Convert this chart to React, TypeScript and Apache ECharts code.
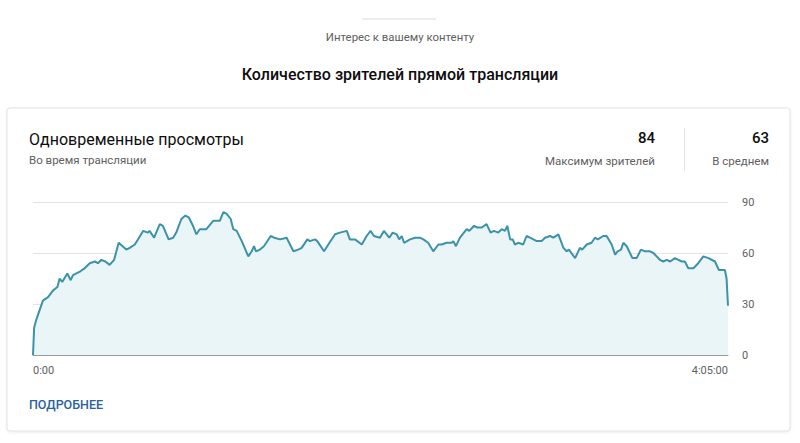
import React, { useEffect, useRef } from "react";
import * as echarts from "echarts";

// Minutes since the start of the stream
const minutes = [
  0, 0.4, 1.2, 3.5, 5.3, 7.1, 8.6, 9.4, 10.3, 12.1, 13.3, 14.1, 16.5, 17.3, 18.2, 20.0,
  21.8, 22.9, 24.1, 25.5, 27.0, 28.6, 30.2, 32.9, 34.1, 35.9, 37.0, 38.8, 40.5, 41.1,
  42.7, 44.7, 45.8, 47.8, 49.4, 50.5, 52.3, 53.7, 54.9, 56.4, 57.6, 58.8, 61.1, 63.6,
  65.9, 67.1, 68.3, 69.7, 70.6, 71.8, 73.6, 75.9, 77.1, 77.9, 78.6, 80.0, 81.4, 83.8,
  85.0, 87.1, 89.4, 91.8, 93.5, 94.7, 96.7, 97.6, 99.4, 100.2, 102.6, 104.5, 106.5,
  108.2, 110.6, 111.7, 113.5, 115.9, 117.6, 119.0, 120.2, 122.3, 123.7, 125.6, 126.8,
  128.2, 129.1, 130.0, 130.8, 132.9, 134.7, 136.4, 137.6, 139.3, 141.1, 142.9, 144.1,
  145.8, 147.6, 148.2, 149.1, 150.5, 152.9, 153.8, 155.5, 156.6, 158.2, 159.9, 161.3,
  162.5, 164.0, 165.2, 166.4, 167.2, 168.2, 169.1, 169.9, 171.1, 172.8, 174.0, 175.2,
  177.6, 179.3, 180.5, 182.3, 183.4, 185.2, 187.0, 188.1, 188.9, 191.1, 192.8, 193.6,
  195.2, 196.9, 198.1, 199.1, 201.0, 202.2, 204.0, 205.2, 206.1, 207.3, 208.1, 209.3,
  211.3, 212.8, 214.3, 215.7, 217.5, 218.7, 221.0, 222.2, 223.4, 224.6, 226.3, 227.5,
  228.7, 229.8, 231.0, 232.8, 234.5, 236.3, 238.1, 240.4, 241.8, 243.0, 243.9, 244.5, 245,
];

// Concurrent viewers at each moment
const viewers = [
  0, 16, 21, 32, 34, 38, 40, 45, 43, 48, 44, 47, 49, 50, 51, 54,
  55, 54, 56, 55, 53, 56, 66, 62, 63, 65, 68, 73, 72, 73,
  69, 77, 76, 68, 69, 72, 80, 82, 81, 76, 71, 74, 74, 79,
  79, 84, 83, 80, 74, 73, 67, 58, 61, 64, 61, 62, 64, 70,
  69, 68, 69, 61, 62, 63, 68, 67, 68, 67, 61, 66, 71,
  72, 73, 68, 68, 65, 70, 73, 70, 69, 73, 69, 72,
  71, 68, 70, 66, 68, 69, 69, 68, 66, 61, 65, 65,
  66, 66, 67, 64, 69, 74, 73, 76, 75, 75, 77, 72,
  73, 72, 74, 73, 76, 68, 68, 65, 66, 65, 70, 69,
  67, 67, 69, 70, 69, 71, 63, 61, 62, 57, 63, 62,
  65, 66, 69, 68, 70, 70, 65, 59, 61, 62, 66, 64,
  57, 57, 62, 61, 61, 60, 56, 55, 56, 55, 57, 56,
  55, 55, 51, 51, 54, 58, 57, 55, 50, 50, 50, 45, 29,
];

const yTicks = [0, 30, 60, 90];
const xTicks = [0, 245];

const pageSubtitle = "Интерес к вашему контенту";
const pageTitle = "Количество зрителей прямой трансляции";
const cardTitle = "Одновременные просмотры";
const cardSubtitle = "Во время трансляции";
const statLabels = ["Максимум зрителей", "В среднем"];
const statValues = [84, 63];
const linkText = "ПОДРОБНЕЕ";

const FONT = "Roboto, 'Noto Sans', Arial, sans-serif";

function formatTime(m: number): string {
  if (m === 0) return "0:00";
  const h = Math.floor(m / 60);
  const mm = Math.round(m % 60);
  return `${h}:${String(mm).padStart(2, "0")}:00`;
}

export default function App() {
  const ref = useRef<HTMLDivElement>(null);

  useEffect(() => {
    if (!ref.current) return;
    const chart = echarts.init(ref.current, undefined, { renderer: "svg" });
    const points = minutes.map((t, i) => [t, viewers[i]]);

    chart.setOption({
      animation: false,
      backgroundColor: "#ffffff",
      textStyle: { fontFamily: FONT },
      grid: { left: 33, right: 72, top: 202, bottom: 88 },
      xAxis: {
        type: "value",
        min: 0,
        max: 245,
        axisLine: { show: true, lineStyle: { color: "#9a9a9a", width: 1 } },
        axisTick: { show: false },
        splitLine: { show: false },
        axisLabel: {
          customValues: xTicks,
          formatter: (v: number) => formatTime(v),
          color: "#606060",
          fontSize: 11,
          fontFamily: FONT,
          margin: 10,
          alignMinLabel: "left",
          alignMaxLabel: "right",
        },
      },
      yAxis: {
        type: "value",
        position: "right",
        min: 0,
        max: 90,
        interval: 30,
        axisLine: { show: false },
        axisTick: { show: false },
        axisLabel: {
          customValues: yTicks,
          color: "#606060",
          fontSize: 11,
          fontFamily: FONT,
          margin: 14,
        },
        splitLine: { show: true, lineStyle: { color: "#e4e4e4", width: 1 } },
      },
      series: [
        {
          type: "line",
          data: points,
          showSymbol: false,
          symbol: "none",
          lineStyle: { color: "#3b92a9", width: 2 },
          areaStyle: { color: "#eaf5f8", opacity: 1 },
          z: 3,
        },
      ],
      graphic: [
        {
          type: "line",
          shape: { x1: 362, y1: 19, x2: 436, y2: 19 },
          style: { stroke: "#dcdcdc", lineWidth: 1 },
        },
        {
          type: "text",
          x: 400,
          y: 37,
          style: {
            text: pageSubtitle,
            font: `11.4px ${FONT}`,
            fill: "#606060",
            textAlign: "center",
            textVerticalAlign: "middle",
          },
        },
        {
          type: "text",
          x: 400,
          y: 74,
          style: {
            text: pageTitle,
            font: `500 16px ${FONT}`,
            fill: "#0d0d0d",
            textAlign: "center",
            textVerticalAlign: "middle",
          },
        },
        {
          type: "rect",
          z: -10,
          shape: { x: 7, y: 108, width: 783, height: 323, r: 3 },
          style: {
            fill: "#ffffff",
            stroke: "#e3e3e3",
            lineWidth: 1,
            shadowBlur: 3,
            shadowOffsetY: 1,
            shadowColor: "rgba(0,0,0,0.08)",
          },
        },
        {
          type: "text",
          x: 29,
          y: 139,
          style: {
            text: cardTitle,
            font: `16px ${FONT}`,
            fill: "#0d0d0d",
            textAlign: "left",
            textVerticalAlign: "middle",
          },
        },
        {
          type: "text",
          x: 29,
          y: 160,
          style: {
            text: cardSubtitle,
            font: `11.5px ${FONT}`,
            fill: "#606060",
            textAlign: "left",
            textVerticalAlign: "middle",
          },
        },
        {
          type: "text",
          x: 655,
          y: 138,
          style: {
            text: String(statValues[0]),
            font: `500 15px ${FONT}`,
            fill: "#0d0d0d",
            textAlign: "right",
            textVerticalAlign: "middle",
          },
        },
        {
          type: "text",
          x: 655,
          y: 161,
          style: {
            text: statLabels[0],
            font: `11.5px ${FONT}`,
            fill: "#606060",
            textAlign: "right",
            textVerticalAlign: "middle",
          },
        },
        {
          type: "line",
          shape: { x1: 684.5, y1: 128, x2: 684.5, y2: 171 },
          style: { stroke: "#e3e3e3", lineWidth: 1 },
        },
        {
          type: "text",
          x: 769,
          y: 138,
          style: {
            text: String(statValues[1]),
            font: `500 15px ${FONT}`,
            fill: "#0d0d0d",
            textAlign: "right",
            textVerticalAlign: "middle",
          },
        },
        {
          type: "text",
          x: 769,
          y: 161,
          style: {
            text: statLabels[1],
            font: `11.5px ${FONT}`,
            fill: "#606060",
            textAlign: "right",
            textVerticalAlign: "middle",
          },
        },
        {
          type: "text",
          x: 29,
          y: 404,
          style: {
            text: linkText,
            font: `500 12.5px ${FONT}`,
            fill: "#2a62a0",
            textAlign: "left",
            textVerticalAlign: "middle",
          },
        },
      ],
    });

    return () => chart.dispose();
  }, []);

  return (
    <div
      ref={ref}
      style={{ position: "fixed", left: 0, top: 0, width: 800, height: 443 }}
    />
  );
}
